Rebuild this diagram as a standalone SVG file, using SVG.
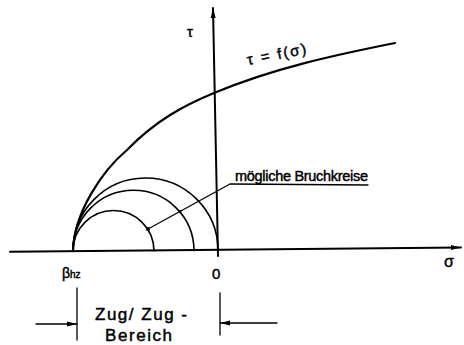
<svg xmlns="http://www.w3.org/2000/svg" width="464" height="345" viewBox="0 0 464 345">
<style>
.ln{fill:none;stroke:#000;stroke-linecap:round;stroke-linejoin:round}
.ax{stroke-width:2}
.cv{stroke-width:2.2}
.ci{stroke-width:1.6}
.th{stroke-width:1.3}
.tx{font-family:"Liberation Sans",Arial,sans-serif;fill:#000;stroke:#000;stroke-width:0.45}
</style>
<defs>
<marker id="arr" viewBox="0 0 10 6" refX="10" refY="3" markerWidth="10" markerHeight="6" markerUnits="userSpaceOnUse" orient="auto">
<path d="M0,0.5 L10,3 L0,5.5 Z" fill="#000"/>
</marker>
</defs>
<rect width="464" height="345" fill="#fff"/>
<g id="axes">
<line class="ln ax" x1="10" y1="251.8" x2="461" y2="247.5" marker-end="url(#arr)"/>
<line class="ln ax" x1="218" y1="256" x2="213" y2="8" marker-end="url(#arr)"/>
</g>
<g id="envelope">
<path class="ln cv" d="M73,251 C74,212 103,170 127,150 C156,120 185,105 214,93 C274,68 335,55 395,43"/>
</g>
<g id="circles">
<path class="ln ci" d="M73,251 A40.5,40.5 0 0 1 154,251"/>
<path class="ln ci" d="M73,251 A60.5,60.5 0 0 1 194,250.6"/>
<path class="ln ci" d="M73,251 A72.5,72.5 0 0 1 218,250"/>
</g>
<g id="connectors">
<polyline class="ln th" points="148,229 230,184 368,185"/>
<circle cx="148" cy="229" r="2" fill="#000"/>
<circle cx="180" cy="211.5" r="1.4" fill="#000"/>
<line class="ln th" x1="77" y1="288" x2="77" y2="340"/>
<line class="ln th" x1="220" y1="293" x2="220" y2="335"/>
<line class="ln th" x1="36" y1="324" x2="77" y2="324" marker-end="url(#arr)"/>
<line class="ln th" x1="277" y1="323" x2="220" y2="323" marker-end="url(#arr)"/>
</g>
<g id="labels">
<text class="tx" x="187" y="37" font-size="15">τ</text>
<text class="tx" x="444" y="267" font-size="16">σ</text>
<text class="tx" x="212" y="279" font-size="15">0</text>
<text class="tx" x="62" y="278" font-size="14">β<tspan font-size="10">hz</tspan></text>
<text class="tx" x="248" y="65" font-size="15" textLength="60" transform="rotate(-11 248 65)">τ = f(σ)</text>
<text class="tx" x="235" y="181" font-size="14.5" textLength="133">mögliche Bruchkreise</text>
<text class="tx" x="95" y="320" font-size="17" textLength="92">Zug/ Zug -</text>
<text class="tx" x="105" y="341" font-size="17" textLength="67">Bereich</text>
</g>
</svg>
